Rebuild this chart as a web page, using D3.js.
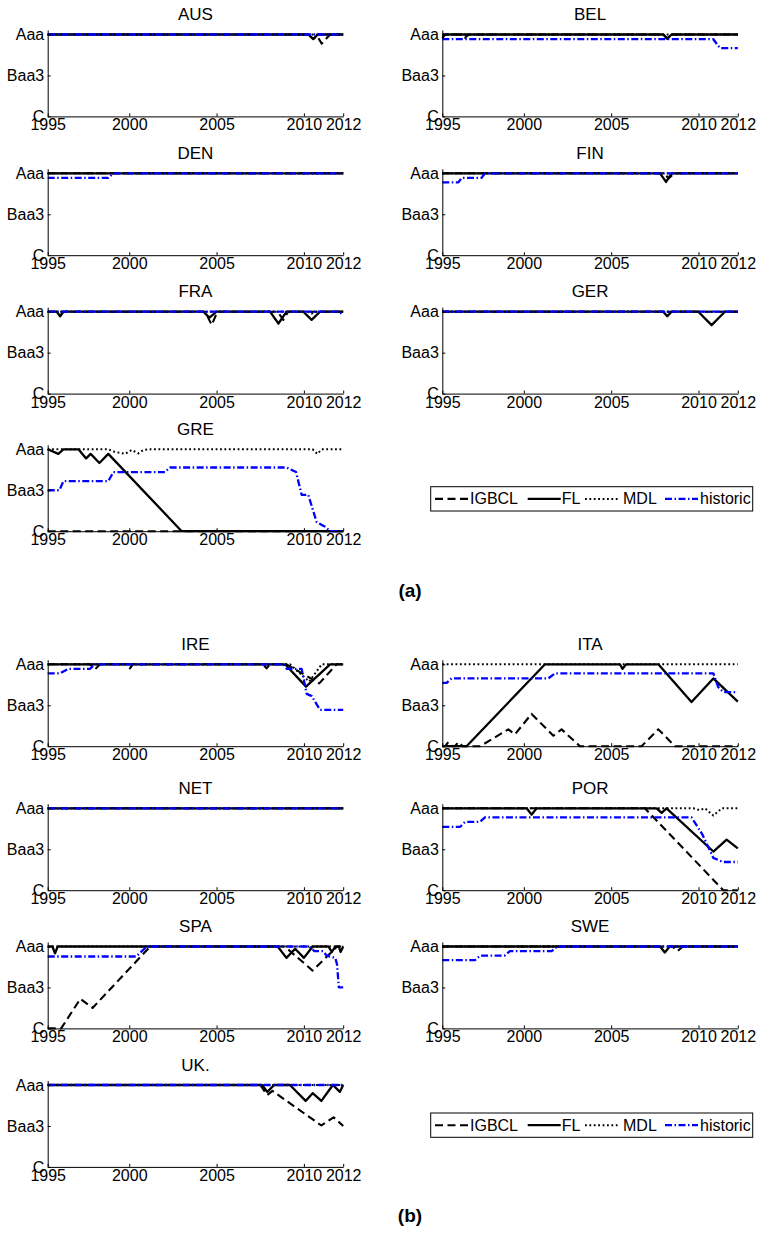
<!DOCTYPE html>
<html><head><meta charset="utf-8">
<script src="https://cdn.jsdelivr.net/npm/d3@7"></script>
<style>
body{margin:0;background:#fff}
svg{display:block}
text{font-family:"Liberation Sans",Arial,Helvetica,sans-serif;fill:#000}
</style>
</head><body>
<svg id="chart" width="759" height="1235"></svg>
<script>
// ---------------- DATA ----------------
const X0 = 1995.33, X1 = 2012.25;           // sample range of the rating series
const xTickValues = [X0, 2000, 2005, 2010, X1];
const xTickLabels = ["1995", "2000", "2005", "2010", "2012"];
const yTickValues = [0, 9, 18];               // notches below Aaa
const yTickLabels = ["Aaa", "Baa3", "C"];
const seriesNames = ["IGBCL", "FL", "MDL", "historic"];
const countriesA = ["AUS", "BEL", "DEN", "FIN", "FRA", "GER", "GRE"];
const countriesB = ["IRE", "ITA", "NET", "POR", "SPA", "SWE", "UK."];
const panelLabels = ["(a)", "(b)"];

// [year, notches below Aaa]
const AUS_IGBCL = [[X0,0],[2010.25,0],[2010.54,1],[2010.75,0.3],[2011.02,2],[2011.5,0],[X1,0]];
const AUS_FL    = [[X0,0],[2010.25,0],[2010.54,1],[2010.8,0],[X1,0]];
const AUS_MDL   = [[X0,0],[X1,0]];
const AUS_HIS   = [[X0,0],[X1,0]];

const BEL_IGBCL = [[X0,0.8],[1995.5,0],[1996.4,0],[1996.63,0.7],[1996.85,0],[2007.98,0],[2008.21,0.9],[2008.46,0],[X1,0]];
const BEL_FL    = [[X0,0],[2007.98,0],[2008.21,0.9],[2008.46,0],[X1,0]];
const BEL_MDL   = [[X0,0],[X1,0]];
const BEL_HIS   = [[X0,1],[2010.84,1],[2011.23,3],[X1,3]];

const DEN_IGBCL = [[X0,0],[X1,0]];
const DEN_FL    = [[X0,0],[X1,0]];
const DEN_MDL   = [[X0,0],[X1,0]];
const DEN_HIS   = [[X0,1],[1998.8,1],[1999.09,0],[X1,0]];

const FIN_IGBCL = [[X0,0],[2008.0,0],[2008.3,1.1],[2008.6,0],[X1,0]];
const FIN_FL    = [[X0,0],[2007.8,0],[2008.14,1.9],[2008.46,0],[X1,0]];
const FIN_MDL   = [[X0,0],[X1,0]];
const FIN_HIS   = [[X0,2],[1996.25,2],[1996.44,1],[1997.58,1],[1997.77,0],[X1,0]];

const FRA_IGBCL = [[X0,0],[2004.35,0],[2004.72,2.9],[2005.05,0],[2008.5,0],[2008.82,1.8],[2009.1,0],[X1,0]];
const FRA_FL    = [[X0,0],[1995.85,0],[1996.04,1],[1996.23,0],[2004.24,0],[2004.59,1.3],[2005.0,0],[2008.06,0],[2008.54,2.6],[2009.01,0],[2009.97,0],[2010.44,1.8],[2010.92,0],[X1,0]];
const FRA_MDL   = [[X0,0],[2010.2,0],[2010.44,0.4],[2010.7,0],[X1,0]];
const FRA_HIS   = [[X0,0],[2012.0,0],[X1,0.7]];

const GER_IGBCL = [[X0,0],[X1,0]];
const GER_FL    = [[X0,0],[2007.98,0],[2008.21,1],[2008.46,0],[2009.99,0],[2010.75,2.96],[2011.51,0],[X1,0]];
const GER_MDL   = [[X0,0],[X1,0]];
const GER_HIS   = [[X0,0],[X1,0]];

const GRE_IGBCL = [[X0,18],[X1,18]];
const GRE_FL    = [[X0,0],[1995.94,1],[1996.23,0],[1997.09,0],[1997.53,2],[1997.79,1],[1998.29,3],[1998.8,1],[2003.0,18],[X1,18]];
const GRE_MDL   = [[X0,0],[1998.8,0],[1999.09,0.5],[1999.76,1],[2000.14,0.15],[2000.52,0.9],[2000.81,0.15],[2001.1,0],[2010.5,0],[2010.77,1],[2011.02,0],[2012.16,0]];
const GRE_HIS   = [[X0,9],[1996.0,9],[1996.23,7],[1998.8,7],[1999.09,5],[2002.05,5],[2002.33,4],[2009.01,4],[2009.55,5],[2009.87,10],[2010.25,10],[2010.73,16],[2011.21,17],[2011.5,18],[X1,18]];

const IRE_IGBCL = [[X0,0],[1997.75,0],[1998.04,1.1],[1998.33,0],[1999.85,0],[2000.04,0.9],[2000.2,0],[2007.67,0],[2007.86,0.9],[2008.05,0],[2009.0,0],[2010.88,4.2],[2011.87,0],[X1,0]];
const IRE_FL    = [[X0,0],[2008.92,0],[2010.12,4.9],[2011.5,0],[X1,0]];
const IRE_MDL   = [[X0,0],[2009.2,0],[2010.3,3.8],[2011.02,0],[X1,0]];
const IRE_HIS   = [[X0,2],[1996.04,2],[1996.5,1],[1997.75,1],[1998.04,0],[2008.82,0],[2009.01,1],[2009.87,1],[2010.16,6.5],[2010.45,7],[2010.92,10],[X1,10]];

const ITA_IGBCL = [[X0,18],[1995.5,18],[1995.67,17.1],[1995.9,18],[1996.05,18],[1996.25,17.1],[1996.5,18],[1997.5,18],[1999.11,14.3],[1999.49,15.4],[2000.44,10.9],[2001.69,15.7],[2002.16,14.3],[2003.21,18],[2006.74,18],[2007.7,14.3],[2008.65,18],[X1,18]];
const ITA_FL    = [[X0,18],[1996.72,18],[2001.21,0],[2005.5,0],[2005.65,1],[2005.85,0],[2007.7,0],[2009.6,8.3],[2010.85,3.1],[X1,8.2]];
const ITA_MDL   = [[X0,0],[X1,0]];
const ITA_HIS   = [[X0,4.1],[1995.58,4.1],[1995.86,3.1],[2001.4,3.1],[2001.78,2],[2010.85,2],[2011.13,5],[2011.42,6.1],[X1,6.1]];

const NET_IGBCL = [[X0,0],[X1,0]];
const NET_FL    = [[X0,0],[X1,0]];
const NET_MDL   = [[X0,0],[X1,0]];
const NET_HIS   = [[X0,0],[X1,0]];

const POR_IGBCL = [[X0,0],[2006.93,0],[2011.42,18],[X1,18]];
const POR_FL    = [[X0,0],[2000.16,0],[2000.44,1.4],[2000.73,0],[2007.6,0],[2007.89,1],[2008.17,0],[2010.85,9.5],[2011.61,6.9],[X1,8.8]];
const POR_MDL   = [[X0,0],[2009.7,0],[2010.08,0.4],[2010.37,0],[2010.85,1.6],[2011.33,0],[X1,0]];
const POR_HIS   = [[X0,4.1],[1996.34,4.1],[1996.63,3],[1997.49,3],[1997.77,2],[2009.6,2],[2010.2,5.6],[2010.85,10.9],[2011.4,11.8],[X1,11.8]];

const SPA_IGBCL = [[X0,18],[1996.1,18],[1997.2,11.5],[1997.9,13.5],[2001.2,0],[2008.9,0],[2010.5,5.3],[2011.9,0],[X1,0]];
const SPA_FL    = [[X0,0],[1995.6,0],[1995.75,1.5],[1995.9,0],[2008.5,0],[2009.0,2.5],[2009.5,0.5],[2010.0,2.5],[2010.5,0],[2011.4,0],[2011.6,1.2],[2011.8,0],[2012.0,0],[2012.1,1.2],[X1,0]];
const SPA_MDL   = [[X0,0],[X1,0]];
const SPA_HIS   = [[X0,2.2],[2000.4,2.2],[2001.0,0],[2010.3,0],[2010.6,1],[2011.1,1],[2011.3,2],[2011.8,2.5],[2011.9,4],[2012.0,9],[X1,9]];

const SWE_IGBCL = [[X0,0],[2008.5,0],[2008.8,1],[2009.1,0],[X1,0]];
const SWE_FL    = [[X0,0],[2007.8,0],[2008.07,1.3],[2008.35,0],[X1,0]];
const SWE_MDL   = [[X0,0],[X1,0]];
const SWE_HIS   = [[X0,3],[1997.2,3],[1997.5,2],[1998.9,2],[1999.2,1],[2001.6,1],[2001.9,0],[X1,0]];

const UK_IGBCL  = [[X0,0],[2007.5,0],[2007.9,2.2],[2008.2,1.3],[2011.0,8.9],[2011.7,7.1],[X1,9]];
const UK_FL     = [[X0,0],[2007.6,0],[2007.9,1.5],[2008.3,0],[2009.2,0],[2010.1,3.5],[2010.5,1.8],[2011.0,3.5],[2011.66,0],[2012.06,1.5],[X1,0]];
const UK_MDL    = [[X0,0],[X1,0]];
const UK_HIS    = [[X0,0],[X1,0]];

const seriesByCountry = {
  AUS:[AUS_IGBCL,AUS_FL,AUS_MDL,AUS_HIS], BEL:[BEL_IGBCL,BEL_FL,BEL_MDL,BEL_HIS],
  DEN:[DEN_IGBCL,DEN_FL,DEN_MDL,DEN_HIS], FIN:[FIN_IGBCL,FIN_FL,FIN_MDL,FIN_HIS],
  FRA:[FRA_IGBCL,FRA_FL,FRA_MDL,FRA_HIS], GER:[GER_IGBCL,GER_FL,GER_MDL,GER_HIS],
  GRE:[GRE_IGBCL,GRE_FL,GRE_MDL,GRE_HIS], IRE:[IRE_IGBCL,IRE_FL,IRE_MDL,IRE_HIS],
  ITA:[ITA_IGBCL,ITA_FL,ITA_MDL,ITA_HIS], NET:[NET_IGBCL,NET_FL,NET_MDL,NET_HIS],
  POR:[POR_IGBCL,POR_FL,POR_MDL,POR_HIS], SPA:[SPA_IGBCL,SPA_FL,SPA_MDL,SPA_HIS],
  SWE:[SWE_IGBCL,SWE_FL,SWE_MDL,SWE_HIS], "UK.":[UK_IGBCL,UK_FL,UK_MDL,UK_HIS]
};

// ---------------- LAYOUT / STYLE ----------------
const styles = {
  IGBCL:   {stroke:"#000", dash:"8,4.5", w:2.1},
  FL:      {stroke:"#000", dash:null, w:2.3},
  MDL:     {stroke:"#000", dash:"1.8,2.6", w:2},
  historic:{stroke:"#0000ff", dash:"7,2.5,1.5,2.5", w:2.3}
};
const colX = [47.7, 442.3];
const plotW = 295.5;
const notchPx = 4.55;
const rowAaaA = [34.5, 173.3, 311.7, 449.3];
const rowAaaB = [664.3, 808.3, 946.5, 1085];
const legendTop = [486.7, 1113];
const labelBaseline = [597, 1222];
const tickFont = 16, titleFont = 17, legendFont = 16;

const svg = d3.select("#chart");
const x = d3.scaleLinear().domain([X0, X1]).range([0, plotW]);
const y = d3.scaleLinear().domain([-1, 18]).range([0, 19 * notchPx]);
const line = d3.line().x(d => x(d[0])).y(d => y(d[1]));

function drawPanel(name, cx, aaaY) {
  const g = svg.append("g").attr("transform", `translate(${cx},${aaaY - notchPx})`);
  const data = seriesByCountry[name];
  seriesNames.forEach((s, i) => {
    const st = styles[s];
    g.append("path").datum(data[i]).attr("d", line)
      .attr("fill", "none").attr("stroke", st.stroke).attr("stroke-width", st.w)
      .attr("stroke-dasharray", st.dash).attr("stroke-linejoin", "round");
  });
  const ya = d3.axisLeft(y).tickValues(yTickValues)
    .tickFormat((d, i) => yTickLabels[i]).tickSizeInner(-3).tickSizeOuter(0).tickPadding(3.5);
  const gy = g.append("g").call(ya);
  const xa = d3.axisBottom(x).tickValues(xTickValues)
    .tickFormat((d, i) => xTickLabels[i]).tickSizeInner(-3).tickSizeOuter(0).tickPadding(2.6);
  const gx = g.append("g").attr("transform", `translate(0,${y(18)})`).call(xa);
  [gy, gx].forEach(a => {
    a.attr("font-family", null).attr("font-size", null);
    a.selectAll("text").attr("font-size", tickFont).style("fill", "#000");
    a.selectAll("path,line").attr("stroke", "#000").attr("stroke-width", 1);
  });
  g.append("text").attr("x", plotW / 2).attr("y", y(0) - 14.5)
    .attr("text-anchor", "middle").attr("font-size", titleFont).text(name);
}

function drawLegend(top) {
  const left = 430.7;
  const g = svg.append("g").attr("transform", `translate(${left},${top})`);
  g.append("rect").attr("width", 322).attr("height", 24.3)
    .attr("fill", "#fff").attr("stroke", "#000").attr("stroke-width", 1);
  const lineX = [4.3, 97, 154.3, 234.3];
  const textX = [39.3, 131, 192.3, 269.3];
  seriesNames.forEach((s, i) => {
    const st = styles[s];
    g.append("line").attr("x1", lineX[i]).attr("x2", lineX[i] + 33)
      .attr("y1", 12.2).attr("y2", 12.2).attr("stroke", st.stroke)
      .attr("stroke-width", st.w).attr("stroke-dasharray", st.dash);
    g.append("text").attr("x", textX[i]).attr("y", 17.8).attr("font-size", legendFont).text(s);
  });
}

[countriesA, countriesB].forEach((list, gi) => {
  const rows = gi === 0 ? rowAaaA : rowAaaB;
  list.forEach((c, i) => drawPanel(c, colX[i % 2], rows[Math.floor(i / 2)]));
  drawLegend(legendTop[gi]);
  svg.append("text").attr("x", 410).attr("y", labelBaseline[gi])
    .attr("text-anchor", "middle").attr("font-size", 19).attr("font-weight", "bold")
    .text(panelLabels[gi]);
});
</script>
</body></html>
